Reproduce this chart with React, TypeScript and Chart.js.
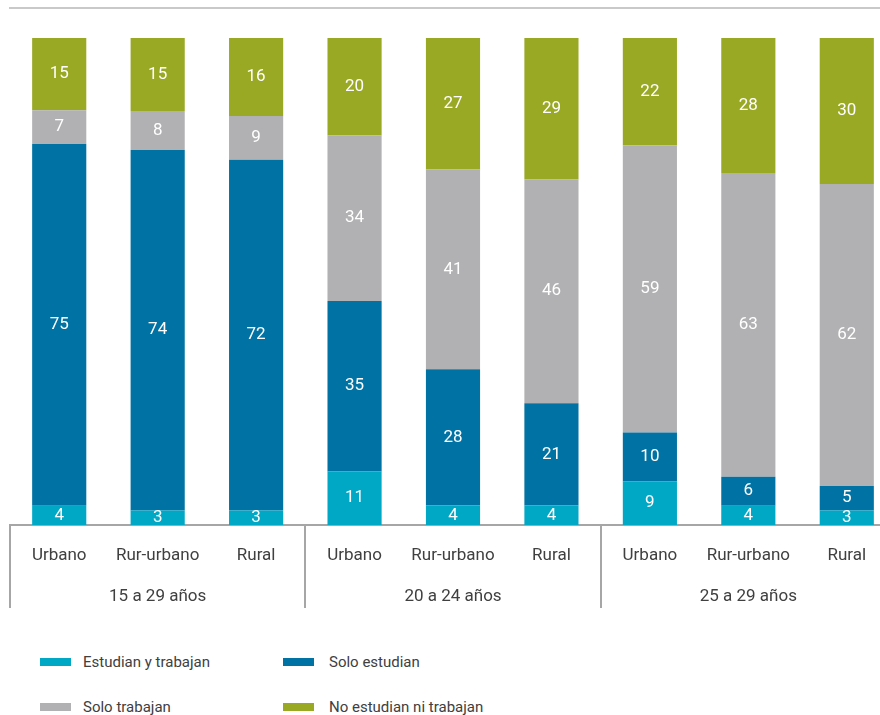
import React, { useEffect, useRef } from "react";
import { Chart, registerables } from "chart.js";

Chart.register(...registerables);

const categories = ["Urbano", "Rur-urbano", "Rural", "Urbano", "Rur-urbano", "Rural", "Urbano", "Rur-urbano", "Rural"];
const groups = ["15 a 29 años", "20 a 24 años", "25 a 29 años"];

const estudianYTrabajan = [4, 3, 3, 11, 4, 4, 9, 4, 3];
const soloEstudian = [75, 74, 72, 35, 28, 21, 10, 6, 5];
const soloTrabajan = [7, 8, 9, 34, 41, 46, 59, 63, 62];
const noEstudianNiTrabajan = [15, 15, 16, 20, 27, 29, 22, 28, 30];

const seriesNames = ["Estudian y trabajan", "Solo estudian", "Solo trabajan", "No estudian ni trabajan"];
const seriesColors = ["#00A8C6", "#0072A3", "#B1B1B3", "#99A924"];

const FONT = "Roboto";
const TEXT = "#404040";

export default function App() {
  const ref = useRef<HTMLCanvasElement | null>(null);

  useEffect(() => {
    const raw = [estudianYTrabajan, soloEstudian, soloTrabajan, noEstudianNiTrabajan];
    const totals = categories.map((_, i) => raw.reduce((s, arr) => s + arr[i], 0));

    const labelsPlugin = {
      id: "valueLabels",
      afterDatasetsDraw(chart: any) {
        const ctx = chart.ctx;
        ctx.save();
        ctx.fillStyle = "#ffffff";
        ctx.font = `17px ${FONT}`;
        ctx.textAlign = "center";
        ctx.textBaseline = "middle";
        chart.data.datasets.forEach((ds: any, di: number) => {
          const meta = chart.getDatasetMeta(di);
          meta.data.forEach((el: any, i: number) => {
            const y = (el.y + el.base) / 2;
            ctx.fillText(String(ds.rawValues[i]), el.x, y);
          });
        });
        ctx.restore();
      },
    };

    const framePlugin = {
      id: "frame",
      afterDraw(chart: any) {
        const ctx = chart.ctx;
        const x = chart.scales.x;
        const area = chart.chartArea;
        ctx.save();
        ctx.fillStyle = "#C9C9C9";
        ctx.fillRect(area.left - 1, 7, chart.width, 2);
        ctx.strokeStyle = "#A6A6A6";
        ctx.lineWidth = 2;
        const px = (i: number) => x.getPixelForValue(i);
        const step = px(1) - px(0);
        [0, 3, 6, 9].forEach((b) => {
          const xx = Math.round(px(b) - step / 2);
          ctx.beginPath();
          ctx.moveTo(xx, area.bottom);
          ctx.lineTo(xx, 608);
          ctx.stroke();
        });
        ctx.restore();
      },
    };

    const chart = new Chart(ref.current as HTMLCanvasElement, {
      type: "bar",
      data: {
        labels: categories,
        datasets: raw.map((arr, si) => ({
          label: seriesNames[si],
          data: arr.map((v, i) => (v / totals[i]) * 100),
          rawValues: arr,
          backgroundColor: seriesColors[si],
          borderWidth: 0,
          barPercentage: 0.55,
          categoryPercentage: 1,
        })) as any,
      },
      options: {
        responsive: false,
        animation: false,
        devicePixelRatio: 1,
        layout: { padding: { left: 10, right: 0, top: 38, bottom: 0 } },
        plugins: { legend: { display: false }, tooltip: { enabled: false } },
        scales: {
          y: { stacked: true, min: 0, max: 100, display: false },
          x: {
            stacked: true,
            weight: 0,
            grid: { display: false, drawTicks: false },
            border: { display: true, color: "#A6A6A6", width: 2 },
            ticks: { color: TEXT, font: { family: FONT, size: 17 }, padding: 21, maxRotation: 0, autoSkip: false },
            afterFit: (s: any) => { s.height = 50; },
          },
          g: {
            type: "category",
            labels: groups,
            position: "bottom",
            weight: 1,
            grid: { display: false, drawTicks: false },
            border: { display: false },
            ticks: { color: TEXT, font: { family: FONT, size: 17 }, padding: 12, maxRotation: 0, autoSkip: false },
            afterFit: (s: any) => { s.height = 45; },
          },
        } as any,
      },
      plugins: [labelsPlugin, framePlugin],
    });
    return () => chart.destroy();
  }, []);

  const legendItem = (i: number, left: number, top: number, gap: number) => (
    <div key={i} style={{ position: "absolute", left, top, display: "flex", alignItems: "center", whiteSpace: "nowrap" }}>
      <div style={{ width: 31, height: 8, background: seriesColors[i] }} />
      <span style={{ marginLeft: gap, fontFamily: FONT, fontSize: 15, color: TEXT, lineHeight: "20px" }}>{seriesNames[i]}</span>
    </div>
  );

  return (
    <div style={{ position: "fixed", left: 0, top: 0, width: 896, height: 715, background: "#fff", overflow: "hidden" }}>
      <canvas ref={ref} width={896} height={620} style={{ display: "block" }} />
      {legendItem(0, 40, 652, 12)}
      {legendItem(1, 283, 652, 15)}
      {legendItem(2, 40, 697, 12)}
      {legendItem(3, 283, 697, 15)}
    </div>
  );
}
